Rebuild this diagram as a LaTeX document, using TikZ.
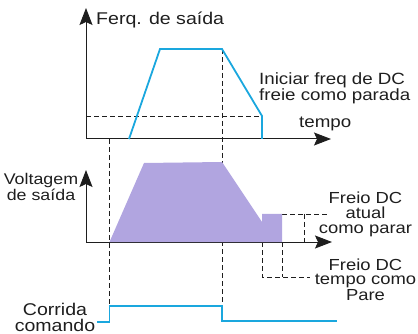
\documentclass[tikz,border=0pt]{standalone}
\usepackage{fontspec}
\setmainfont{Liberation Sans}
\newfontfamily\labfont[FakeStretch=1.15]{Liberation Sans}
\usetikzlibrary{arrows.meta}
\definecolor{cblue}{RGB}{26,167,222}
\definecolor{cpurple}{RGB}{177,165,224}
\definecolor{ink}{RGB}{30,30,30}
\begin{document}
\begin{tikzpicture}[x=1pt,y=-1pt,
  axisline/.style={draw=ink, line width=1pt},
  axisarrow/.style={axisline, -{Stealth[length=17pt,width=13pt,inset=3pt]}},
  signal/.style={draw=cblue, line width=1.8pt, line join=miter},
  guide/.style={draw=ink, line width=0.9pt, dash pattern=on 5pt off 3pt},
  lab/.style={inner sep=0pt, text=ink}]
\useasboundingbox (0,0) rectangle (418,334);
% --- upper chart: output frequency ---
\coordinate (O1) at (86,139);
\coordinate (Y1) at (86,8);
\coordinate (X1) at (331,139);
\coordinate (f0) at (129,139);
\coordinate (f1) at (160,49);
\coordinate (f2) at (222,49);
\coordinate (f3) at (262,116);
\coordinate (f4) at (262,139);
\coordinate (h0) at (86,116);
% --- lower chart: output voltage ---
\coordinate (O2) at (86,242);
\coordinate (Y2) at (86,170);
\coordinate (X2) at (332,242);
\coordinate (p0) at (109.5,242);
\coordinate (p1) at (144,163);
\coordinate (p2) at (222,162);
\coordinate (p3) at (262,222);
\coordinate (p4) at (262,214);
\coordinate (p5) at (282,214);
\coordinate (p6) at (282,242);
\coordinate (g1) at (327,214);
\coordinate (g2) at (304,214);
\coordinate (g3) at (304,242);
\coordinate (g4) at (262,242);
\coordinate (g5) at (262,277);
\coordinate (g6) at (282,277);
\coordinate (g7) at (310,277);
% --- run command ---
\coordinate (c0) at (97,322);
\coordinate (c1) at (109.5,322);
\coordinate (c2) at (109.5,306);
\coordinate (c3) at (222,306);
\coordinate (c4) at (222,321);
\coordinate (c5) at (337,321);
\coordinate (v0) at (109.5,139);
% guides
\draw[guide] (h0) -- (f3);
\draw[guide] (v0) -- (c2);
\draw[guide] (f2) -- (c3);
\draw[guide] (p5) -- (g1);
\draw[guide] (g2) -- (g3);
\draw[guide] (g4) -- (g5) -- (g7);
\draw[guide] (p6) -- (g6);
% axes
\draw[axisarrow] (O1) -- (Y1);
\draw[axisarrow] (O1) -- (X1);
\draw[axisarrow] (O2) -- (Y2);
\draw[axisarrow] (O2) -- (X2);
% purple voltage area
\fill[cpurple] (p0) -- (p1) -- (p2) -- (p3) -- (p4) -- (p5) -- (p6) -- cycle;
% blue signals
\draw[signal] (f0) -- (f1) -- (f2) -- (f3) -- (f4);
\draw[signal] (c0) -- (c1) -- (c2) -- (c3) -- (c4) -- (c5);
% labels
\node[lab, anchor=north west, font=\labfont\fontsize{17}{17}\selectfont] (tFreq) at (96,12) {Ferq. de saída};
\node[lab, anchor=north west, align=left, font=\labfont\fontsize{16.3}{16}\selectfont] (tIni) at (259,72) {Iniciar freq de DC\\freie como parada};
\node[lab, anchor=north west, font=\labfont\fontsize{16.3}{16}\selectfont] (tTempo) at (299,117) {tempo};
\node[lab, anchor=north, align=center, font=\labfont\fontsize{15.5}{13.5}\selectfont] (tVolt) at (41,173) {Voltagem\\de saída};
\node[lab, anchor=north, align=center, font=\labfont\fontsize{16}{15}\selectfont] (tCur) at (365.5,192) {Freio DC\\atual\\como parar};
\node[lab, anchor=north, align=center, font=\labfont\fontsize{16}{14}\selectfont] (tTime) at (365.5,259) {Freio DC\\tempo como\\Pare};
\node[lab, anchor=north, align=center, font=\labfont\fontsize{17}{16}\selectfont] (tRun) at (55,303) {Corrida\\comando};
\end{tikzpicture}
\end{document}
